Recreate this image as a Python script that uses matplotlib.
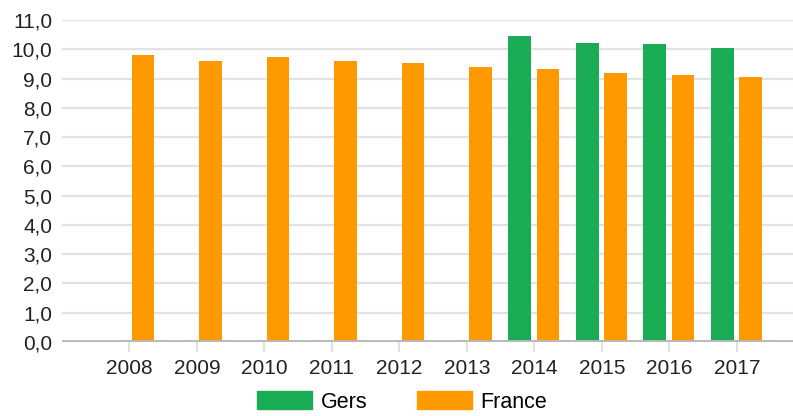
import numpy as np
import matplotlib.pyplot as plt
from matplotlib.patches import Patch

years = ["2008", "2009", "2010", "2011", "2012", "2013", "2014", "2015", "2016", "2017"]
gers = [np.nan, np.nan, np.nan, np.nan, np.nan, np.nan, 10.45, 10.23, 10.17, 10.04]
france = [9.80, 9.60, 9.73, 9.60, 9.53, 9.38, 9.31, 9.18, 9.12, 9.04]
yticks = np.arange(0, 12, 1)

green = "#1aab55"
orange = "#ff9900"

plt.rcParams['font.family'] = ['Liberation Sans', 'DejaVu Sans']

fig = plt.figure(figsize=(7.93, 4.16), dpi=100)
ax = fig.add_axes([62 / 793, (416 - 342) / 416, 1 - 62 / 793, (342 - 20) / 416])

x = np.arange(len(years))
w = 0.34
ax.bar(x - 0.215, gers, width=w, color=green, zorder=3)
ax.bar(x + 0.2, france, width=w, color=orange, zorder=3)

ax.set_xlim(-1.0, 9.83)
ax.set_ylim(0, 11)
ax.set_yticks(yticks)
ax.set_yticklabels([f"{v:.1f}".replace(".", ",") for v in yticks])
ax.set_xticks(x)
ax.set_xticklabels(years)

for v in yticks[1:]:
    ax.axhline(v, color="#e2e2e2", lw=1.6, zorder=1)
ax.axhline(0, color="#b9b9b9", lw=2.8, zorder=4)

for s in ax.spines.values():
    s.set_visible(False)
ax.tick_params(axis="y", length=0, pad=7, labelsize=15, labelcolor="#222222")
ax.tick_params(axis="x", length=7, width=1.5, color="#e2e2e2", pad=5,
               labelsize=15, labelcolor="#222222")

# legende en bas, centree sous le graphique
handles = [Patch(color=green, label="Gers"), Patch(color=orange, label="France")]
fig.legend(handles=handles, loc="center", bbox_to_anchor=(402 / 793, 1 - 402 / 416),
           ncol=2, frameon=False, fontsize=15.5, handlelength=2.55, handleheight=0.92,
           handletextpad=0.4, columnspacing=2.3, borderpad=0, borderaxespad=0)

fig.savefig("out.png", dpi=100)
